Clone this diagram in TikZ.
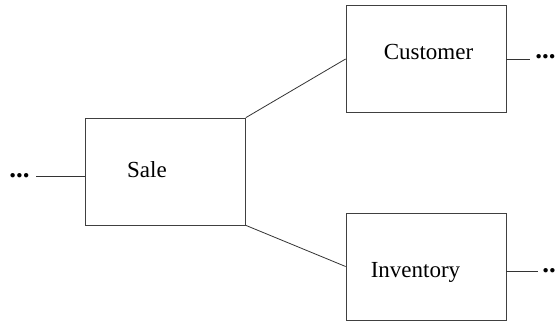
\documentclass[tikz,border=0pt]{standalone}
\usepackage{fontspec}
\setmainfont{Liberation Serif}
\begin{document}
\begin{tikzpicture}[x=1pt, y=1pt, line width=0.8pt,
  entity/.style={draw=black!75, minimum width=160pt, minimum height=107pt, inner sep=0pt},
  entname/.style={font=\fontsize{23}{28}\selectfont, anchor=base, inner sep=0pt},
  more/.style={font=\fontsize{27}{30}\selectfont\bfseries, anchor=west, inner sep=0pt}]
\useasboundingbox (0,0) rectangle (557,321);

% Entity boxes
\node[entity] (sale) at (165.5,149.5) {};
\node[entity] (cust) at (426,262) {};
\node[entity] (inv) at (426,54.5) {};

% Entity names
\node[entname] (saleT) at (147,143) {Sale};
\node[entname] (custT) at (428.5,261) {Customer};
\node[entname] (invT) at (415.5,43) {Inventory};

% Continuation dots
\node[more] (dotsL) at (9,145) {...};
\node[more] (dotsC) at (535,264) {...};
\node[more] (dotsI) at (542,50) {...};

% Links between entities
\draw[black!80] (sale.north east) -- (cust.west);
\draw[black!80] (sale.south east) -- (inv.west);

% Links to the rest of the model
\draw[black!80] ([xshift=6pt]dotsL.east) -- (dotsL.east -| sale.west);
\draw[black!80] (cust.east) -- ([xshift=-5pt]cust.east -| dotsC.west);
\draw[black!80] (inv.east |- dotsI.west) -- ([xshift=-4pt]dotsI.west);

\end{tikzpicture}
\end{document}
